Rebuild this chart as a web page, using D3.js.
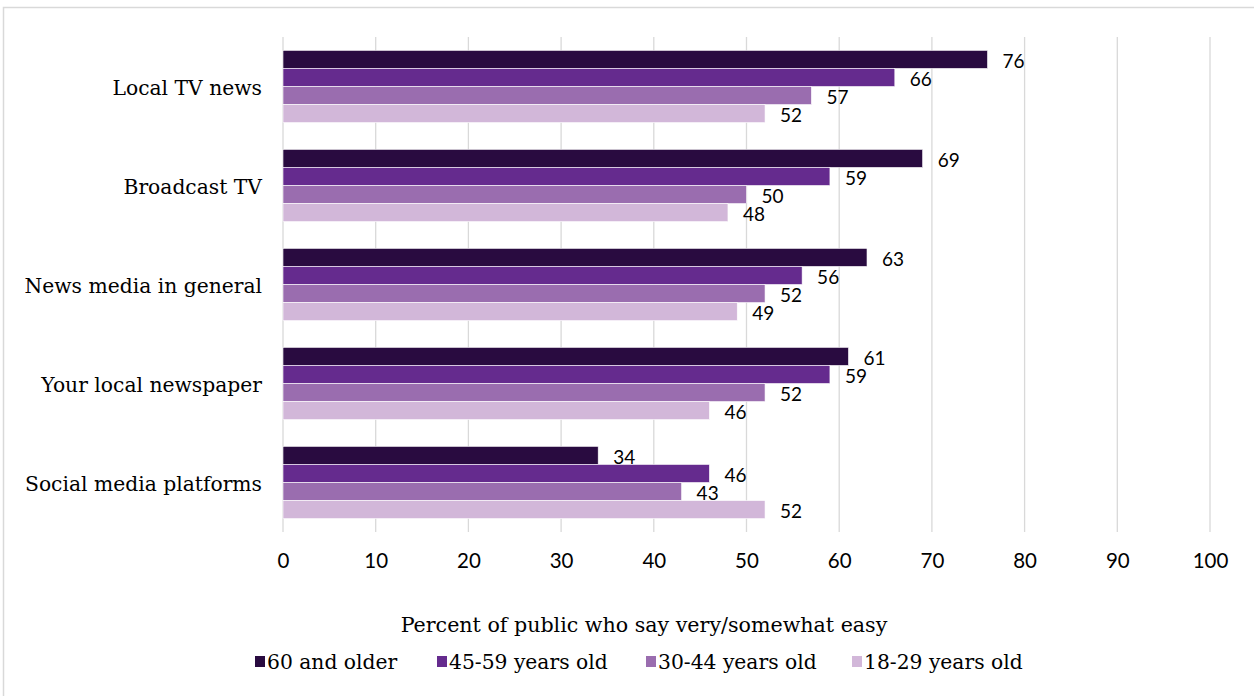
<!DOCTYPE html>
<html><head><meta charset="utf-8">
<script src="https://cdn.jsdelivr.net/npm/d3@7"></script>
<style>body{margin:0;background:#fff}</style>
</head><body><svg id="c" width="1254" height="696"></svg>
<script>
const categories = ["Local TV news","Broadcast TV","News media in general","Your local newspaper","Social media platforms"];
const seriesNames = ["60 and older","45-59 years old","30-44 years old","18-29 years old"];
const s60 = [76,69,63,61,34];
const s45 = [66,59,56,59,46];
const s30 = [57,50,52,52,43];
const s18 = [52,48,49,46,52];
const seriesValues = [s60,s45,s30,s18];
const colors = ["#290b40","#652b8e","#9a6daf","#d2b7d9"];
const ticks = [0,10,20,30,40,50,60,70,80,90,100];

const svg = d3.select("#c");
const serif = "'DejaVu Serif', serif";
const sans = "Lato, 'Open Sans', sans-serif";

svg.append("rect").attr("x",3.5).attr("y",7.5).attr("width",1260).attr("height",700)
  .attr("fill","none").attr("stroke","#d9d9d9").attr("stroke-width",1.5);

const x = d3.scaleLinear().domain([0,100]).range([283,1210]);
const y = d3.scaleBand().domain(categories).range([37,532]).paddingInner(0.27).paddingOuter(0.135);
const ys = d3.scaleBand().domain(seriesNames).range([0,y.bandwidth()]);

svg.append("g").selectAll("line").data(ticks).join("line")
  .attr("x1",d=>x(d)).attr("x2",d=>x(d)).attr("y1",37).attr("y2",532)
  .attr("stroke","#d9d9d9").attr("stroke-width",1.3);

const xAxis = svg.append("g").attr("transform","translate(0,532)")
  .call(d3.axisBottom(x).tickValues(ticks).tickSize(0).tickPadding(21));
xAxis.select(".domain").remove();
xAxis.selectAll("text").attr("font-family",sans).attr("font-size",20.5).attr("fill","#000");

const yAxis = svg.append("g").attr("transform","translate(262,1.5)")
  .call(d3.axisLeft(y).tickSize(0).tickPadding(0));
yAxis.select(".domain").remove();
yAxis.selectAll("text").attr("font-family",serif).attr("font-size",20.3).attr("fill","#000");

seriesNames.forEach((s,i)=>{
  const g = svg.append("g");
  g.selectAll("rect").data(categories).join("rect")
    .attr("x",x(0)).attr("y",c=>y(c)+ys(s))
    .attr("width",(c,j)=>x(seriesValues[i][j])-x(0))
    .attr("height",ys.bandwidth())
    .attr("fill",colors[i]).attr("stroke","#ffffff").attr("stroke-width",0.6);
  g.selectAll("text").data(categories).join("text")
    .attr("x",(c,j)=>x(seriesValues[i][j])+15)
    .attr("y",c=>y(c)+ys(s)+ys.bandwidth()/2+3.5)
    .attr("dominant-baseline","middle")
    .attr("font-family",sans).attr("font-size",19).attr("fill","#000")
    .text((c,j)=>seriesValues[i][j]);
});

svg.append("text").attr("x",644).attr("y",626).attr("text-anchor","middle").attr("dominant-baseline","middle")
  .attr("font-family",serif).attr("font-size",20.6).attr("fill","#000")
  .text("Percent of public who say very/somewhat easy");

const legX = [255,437,646,852];
const leg = svg.append("g");
seriesNames.forEach((s,i)=>{
  leg.append("rect").attr("x",legX[i]).attr("y",656).attr("width",10).attr("height",11).attr("fill",colors[i]);
  leg.append("text").attr("x",legX[i]+12).attr("y",663).attr("dominant-baseline","middle")
    .attr("font-family",serif).attr("font-size",20.3).attr("fill","#000").text(s);
});
</script></body></html>
